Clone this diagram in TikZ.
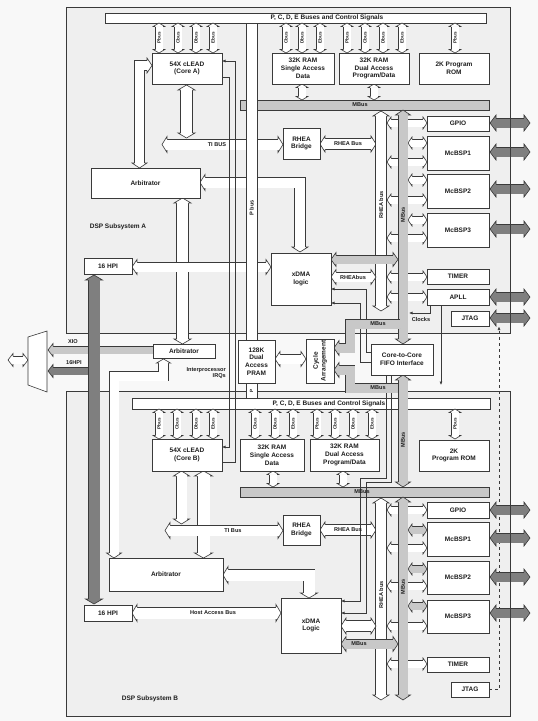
\documentclass[tikz,border=0pt]{standalone}
\usepackage{fontspec}
\setmainfont{Liberation Sans}
\usetikzlibrary{arrows.meta}
\definecolor{bgc}{HTML}{F8F8F8}
\definecolor{subc}{HTML}{EFEFEF}
\definecolor{bordc}{HTML}{3A3A3A}
\definecolor{mgray}{HTML}{C8C8C8}
\definecolor{dgray}{HTML}{7F7F7F}
\definecolor{txtc}{HTML}{1E1E1E}
\tikzset{
 ln/.style={draw=bordc, line width=0.6pt},
 arr/.style={-{Latex[length=3.5pt,width=3pt]}},
 boxline/.style={draw=bordc, line width=0.8pt},
 blk/.style={draw=bordc, line width=0.7pt, fill=white, inner sep=0pt, align=center, text=txtc, font=\fontsize{6.5}{7.8}\selectfont\bfseries},
 lbl/.style={inner sep=0pt, align=center, text=txtc, font=\fontsize{6.5}{7.8}\selectfont\bfseries},
 slbl/.style={inner sep=0pt, align=center, text=txtc, font=\fontsize{5.6}{6}\selectfont\bfseries},
 tlbl/.style={inner sep=0pt, text=txtc, font=\fontsize{4.6}{5}\selectfont\bfseries, rotate=90},
 rlbl/.style={inner sep=0pt, text=txtc, font=\fontsize{5.6}{6}\selectfont\bfseries, rotate=90},
}
\def\hdlen{5}\def\hdext{2.5}
\newcommand{\band}[3]{\pgfmathsetmacro\bdo{2*#1+0.4}\pgfmathsetmacro\bdi{2*#1-1.0}\draw[draw=bordc, line width=\bdo pt] #3; \draw[draw=#2, line width=\bdi pt] #3;}
\newcommand{\hdL}[4]{\fill[#4] (#1,#2) -- ({#1+\hdlen},{#2-#3-\hdext}) -- ({#1+\hdlen},{#2+#3+\hdext}) -- cycle;
 \draw[ln] ({#1+\hdlen},{#2-#3}) -- ({#1+\hdlen},{#2-#3-\hdext}) -- (#1,#2) -- ({#1+\hdlen},{#2+#3+\hdext}) -- ({#1+\hdlen},{#2+#3});}
\newcommand{\hdR}[4]{\fill[#4] (#1,#2) -- ({#1-\hdlen},{#2-#3-\hdext}) -- ({#1-\hdlen},{#2+#3+\hdext}) -- cycle;
 \draw[ln] ({#1-\hdlen},{#2-#3}) -- ({#1-\hdlen},{#2-#3-\hdext}) -- (#1,#2) -- ({#1-\hdlen},{#2+#3+\hdext}) -- ({#1-\hdlen},{#2+#3});}
\newcommand{\hdU}[4]{\fill[#4] (#1,#2) -- ({#1-#3-\hdext},{#2+\hdlen}) -- ({#1+#3+\hdext},{#2+\hdlen}) -- cycle;
 \draw[ln] ({#1-#3},{#2+\hdlen}) -- ({#1-#3-\hdext},{#2+\hdlen}) -- (#1,#2) -- ({#1+#3+\hdext},{#2+\hdlen}) -- ({#1+#3},{#2+\hdlen});}
\newcommand{\hdD}[4]{\fill[#4] (#1,#2) -- ({#1-#3-\hdext},{#2-\hdlen}) -- ({#1+#3+\hdext},{#2-\hdlen}) -- cycle;
 \draw[ln] ({#1-#3},{#2-\hdlen}) -- ({#1-#3-\hdext},{#2-\hdlen}) -- (#1,#2) -- ({#1+#3+\hdext},{#2-\hdlen}) -- ({#1+#3},{#2-\hdlen});}
\newcommand{\HDA}[5]{\band{#4}{#5}{({#1+\hdlen},#3) -- ({#2-\hdlen},#3)}\hdL{#1}{#3}{#4}{#5}\hdR{#2}{#3}{#4}{#5}}
\newcommand{\VDA}[5]{\band{#4}{#5}{(#3,{#1+\hdlen}) -- (#3,{#2-\hdlen})}\hdU{#3}{#1}{#4}{#5}\hdD{#3}{#2}{#4}{#5}}
\newcommand{\blk}[6]{\pgfmathsetmacro\bw{#4-#2}\pgfmathsetmacro\bh{#5-#3}\pgfmathsetmacro\bxc{(#2+#4)/2}\pgfmathsetmacro\byc{(#3+#5)/2}\node[blk, minimum width=\bw pt, minimum height=\bh pt] (#1) at (\bxc,\byc) {#6};}
\begin{document}
\begin{tikzpicture}[x=1pt,y=-1pt]
\fill[bgc] (0,0) rectangle (538,721);
\useasboundingbox (0,0) rectangle (538,721);
% subsystem frames
\draw[boxline, fill=subc] (66,7) rectangle (510,333);
\draw[boxline, fill=subc] (66,391) rectangle (510,716);
\node[lbl] at (118,227) {DSP Subsystem A};
\node[lbl] at (150,699) {DSP Subsystem B};
% bus bars
\draw[ln, fill=white] (105,13) rectangle (486,23);
\node[lbl] at (327,18) {P, C, D, E Buses and Control Signals};
\draw[ln, fill=white] (132,398) rectangle (490,409);
\node[lbl] at (329,403.5) {P, C, D, E Buses and Control Signals};
\draw[ln, fill=mgray] (240,100) rectangle (489,110);
\draw[ln, fill=mgray] (240,487) rectangle (489,497);
% small bus arrows
\def\hdlen{3.5}\def\hdext{1.8}
\foreach \x/\lab in {159/Pbus,178/Cbus,196/Dbus,213/Ebus,286/Cbus,302/Dbus,320/Ebus,347/Pbus,365/Cbus,383/Dbus,402/Ebus,455/Pbus}{
  \VDA{23}{53}{\x}{4}{white}\node[tlbl] at (\x,38) {\lab};}
\foreach \x/\lab in {159/Pbus,177/Cbus,196/Dbus,213/Ebus,255/Cbus,275/Dbus,293/Ebus,317/Pbus,335/Cbus,353/Dbus,372/Ebus,455/Pbus}{
  \VDA{409}{439}{\x}{4}{white}\node[tlbl] at (\x,424) {\lab};}
\foreach \x in {302,374}{\VDA{84}{100}{\x}{4}{white}}
\foreach \x in {273,343}{\VDA{471}{487}{\x}{4}{white}}
\def\hdlen{5}\def\hdext{2.5}
% ---- subsystem A bands
\VDA{85}{138}{186.5}{6}{white}
\HDA{162}{283}{144.5}{5.5}{white}
\HDA{320}{376}{144}{5.5}{white}
\band{5}{white}{(147,65.5) -- (139.5,65.5) -- (139.5,163)}
\hdR{152}{65.5}{5}{white}\hdD{139.5}{168}{5}{white}
\band{5.5}{white}{(205,182.5) -- (300,182.5) -- (300,247)}
\hdL{200}{182.5}{5.5}{white}\hdD{300}{252}{5.5}{white}
\VDA{198}{344}{182.5}{6}{white}
\HDA{132}{271}{267}{5}{white}
\VDA{111}{311}{381}{5.5}{white}
\HDA{331}{376}{277}{5}{white}
\def\hdlen{4}\def\hdext{2}
\foreach \y in {123,162,200,238,277,297}{\HDA{387}{427}{\y}{4}{white}}
\foreach \y in {143,180,220}{\HDA{408}{427}{\y}{4}{white}}
\foreach \y in {548,586,626,664,510}{\HDA{387}{427}{\y}{4}{white}}
\foreach \y in {530,569,606}{\HDA{408}{427}{\y}{4}{mgray}}
\def\hdlen{5}\def\hdext{2.5}
% ---- subsystem B bands
\VDA{471}{558}{203.5}{6.5}{white}
\VDA{471}{524}{181.5}{5.5}{white}
\HDA{165}{283}{530.5}{5.5}{white}
\HDA{320}{376}{530}{5.5}{white}
\band{6}{white}{(228,575) -- (309,575) -- (309,593)}
\hdL{223}{575}{6}{white}\hdD{309}{598}{6}{white}
\HDA{132}{281}{613}{6}{white}
\VDA{498}{700}{381}{5.5}{white}
\HDA{341}{376}{626}{5.5}{white}
% interprocessor arbitrator to arbitrator B
\band{5}{white}{(163.5,363) -- (163.5,376) -- (114,376) -- (114,553)}
\hdD{114}{558}{5}{white}
\def\hdlen{4}\def\hdext{2}
\hdU{163.5}{359}{5}{white}
\def\hdlen{5}\def\hdext{2.5}
% ---- centre
\HDA{275}{306}{359}{5}{white}
\HDA{8}{28}{360}{4}{white}
% lines between xDMA and FIFO
\draw[ln, arr] (371,352) -- (366,352) -- (366,289) -- (331,289);
\draw[ln, arr] (371,362) -- (360,362) -- (360,303) -- (331,303);
\draw[ln, arr] (386,375) -- (386,478) -- (360,478) -- (360,601) -- (341,601);
\draw[ln, arr] (391,375) -- (391,482) -- (366,482) -- (366,613) -- (341,613);
% MBus (grey) buses
\VDA{110}{344}{403}{5}{mgray}
\HDA{331}{398}{259.5}{4.5}{mgray}
\band{5}{mgray}{(400,324) -- (350,324) -- (350,348) -- (339,348)}
\hdL{334}{348}{5}{mgray}
\band{5}{mgray}{(400,388) -- (350,388) -- (350,370) -- (339,370)}
\hdL{334}{370}{5}{mgray}
\VDA{375}{487}{403}{5}{mgray}
\VDA{497}{700}{403}{5}{mgray}
\HDA{341}{398}{644}{5}{mgray}
% XIO and 16HPI
\band{4}{mgray}{(153,350) -- (53,350)}\hdL{48}{350}{4}{mgray}
\band{4}{dgray}{(94,371) -- (53,371)}\hdL{48}{371}{4}{dgray}
\VDA{275}{604}{94}{6}{dgray}
\draw[ln, fill=white] (28,337) -- (47,331) -- (47,392) -- (28,385) -- cycle;
% P bus
\draw[ln, fill=white] (246,23) rectangle (257,340);
\draw[ln, fill=white] (246,383) rectangle (257,398);
% interprocessor IRQ lines between the cores
\draw[ln, arr] (222,77) -- (229,77) -- (229,447) -- (222,447);
\draw[ln, arr] (222,462) -- (235,462) -- (235,61) -- (222,61);
% clocks, jtag
\draw[ln, arr] (430,305) -- (430,313) -- (409,313);
\draw[ln, arr] (441,305) -- (441,385);
\draw[ln, dashed, arr] (489,689.5) -- (499,689.5) -- (499,326.5);
% external arrows
\def\hdlen{6}\def\hdext{3}
\foreach \y in {123,152,189,229,297,318,510,538,577,613}{\HDA{490}{530}{\y}{5}{dgray}}
\def\hdlen{5}\def\hdext{2.5}
\draw[boxline] (510,7) -- (510,333);
\draw[boxline] (510,391) -- (510,716);
% ---- blocks
\blk{coreA}{152}{53}{222}{84}{54X cLEAD\\(Core A)}
\blk{ramsA}{272}{53}{334}{84}{32K RAM\\Single Access\\Data}
\blk{ramdA}{339}{53}{409}{84}{32K RAM\\Dual Access\\Program/Data}
\blk{romA}{419}{53}{489}{84}{2K Program\\ROM}
\blk{brA}{283}{128}{320}{159}{RHEA\\Bridge}
\blk{arbA}{91}{168}{200}{198}{Arbitrator}
\blk{hpiA}{84}{258}{132}{274}{16 HPI}
\blk{xdmaA}{271}{253}{331}{305}{xDMA\\logic}
\blk{gpioA}{427}{116}{489}{131}{GPIO}
\blk{sp1A}{427}{136}{489}{170}{McBSP1}
\blk{sp2A}{427}{174}{489}{208}{McBSP2}
\blk{sp3A}{427}{213}{489}{247}{McBSP3}
\blk{timA}{427}{269}{489}{284}{TIMER}
\blk{apll}{427}{289}{489}{305}{APLL}
\blk{jtagA}{451}{311}{489}{326}{JTAG}
\blk{arbC}{153}{344}{215}{358}{Arbitrator}
\blk{pram}{238}{340}{275}{383}{128K\\Dual\\Access\\PRAM}
\blk{cyc}{306}{339}{334}{383}{}
\node[lbl, rotate=90] at (cyc) {Cycle\\Arrangement};
\blk{fifo}{371}{344}{433}{375}{Core-to-Core\\FIFO Interface}
\blk{coreB}{152}{439}{222}{471}{54X cLEAD\\(Core B)}
\blk{ramsB}{240}{439}{304}{471}{32K RAM\\Single Access\\Data}
\blk{ramdB}{310}{439}{379}{471}{32K RAM\\Dual Access\\Program/Data}
\blk{romB}{419}{440}{489}{471}{2K\\Program ROM}
\blk{brB}{283}{515}{320}{545}{RHEA\\Bridge}
\blk{arbB}{109}{558}{223}{591}{Arbitrator}
\blk{hpiB}{84}{605}{132}{621}{16 HPI}
\blk{xdmaB}{281}{598}{341}{653}{xDMA\\Logic}
\blk{gpioB}{427}{502}{489}{518}{GPIO}
\blk{sp1B}{427}{522}{489}{556}{McBSP1}
\blk{sp2B}{427}{561}{489}{594}{McBSP2}
\blk{sp3B}{427}{600}{489}{633}{McBSP3}
\blk{timB}{427}{657}{489}{672}{TIMER}
\blk{jtagB}{451}{682}{489}{697}{JTAG}
% ---- labels on buses
\node[slbl] at (360,105) {MBus};
\node[slbl] at (362,492) {MBus};
\node[slbl] at (217,144.5) {TI BUS};
\node[slbl] at (348,144) {RHEA Bus};
\node[slbl] at (233,530.5) {TI Bus};
\node[slbl] at (348,530) {RHEA Bus};
\node[slbl] at (353,277) {RHEAbus};
\node[slbl] at (213,613) {Host Access Bus};
\node[slbl] at (378,324) {MBus};
\node[slbl] at (378,388) {MBus};
\node[slbl] at (359,644) {MBus};
\node[rlbl] at (251.5,208) {P bus};
\node[tlbl] at (251.5,391) {P};
\node[rlbl] at (381,205) {RHEA bus};
\node[rlbl] at (403,215) {MBus};
\node[rlbl] at (403,440) {MBus};
\node[rlbl] at (381,595) {RHEA bus};
\node[rlbl] at (403,587) {MBus};
\node[slbl] at (73,342) {XIO};
\node[slbl] at (74,363) {16HPI};
\node[slbl, align=right, anchor=north east] at (226,367) {Interprocessor\\IRQs};
\node[slbl] at (421,319) {Clocks};
\end{tikzpicture}
\end{document}
